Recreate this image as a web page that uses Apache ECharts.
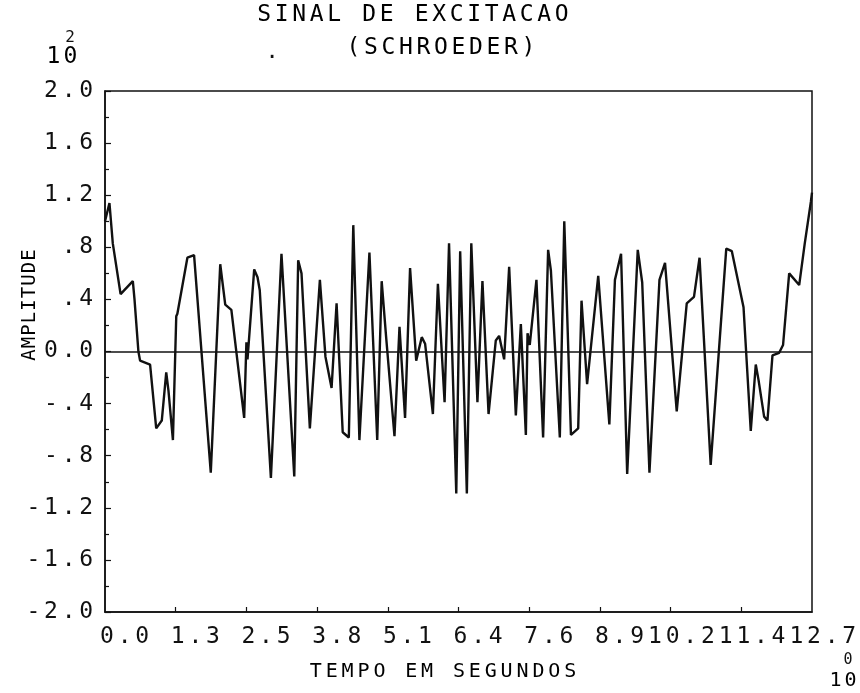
<!DOCTYPE html>
<html>
<head>
<meta charset="utf-8">
<script src="https://cdn.jsdelivr.net/npm/echarts@6/dist/echarts.min.js"></script>
<style>
html,body{margin:0;padding:0;background:#fff;}
#chart{width:860px;height:693px;}
</style>
</head>
<body>
<div id="chart"></div>
<script>
// time (s)
const times = [
  0, 0.08, 0.14, 0.28, 0.50, 0.53, 0.60, 0.63, 0.81, 0.92,
  1.02, 1.10, 1.14, 1.22, 1.28, 1.30, 1.48, 1.60, 1.90, 2.07,
  2.16, 2.27, 2.50, 2.54, 2.56, 2.68, 2.74, 2.78, 2.98, 3.17,
  3.40, 3.47, 3.53, 3.68, 3.86, 3.96, 4.07, 4.16, 4.27, 4.38,
  4.46, 4.57, 4.75, 4.89, 4.97, 5.05, 5.20, 5.29, 5.39, 5.48,
  5.59, 5.69, 5.75, 5.89, 5.98, 6.10, 6.18, 6.31, 6.38, 6.50,
  6.58, 6.69, 6.78, 6.89, 7.02, 7.08, 7.17, 7.26, 7.38, 7.47,
  7.56, 7.59, 7.63, 7.75, 7.87, 7.96, 8.01, 8.17, 8.25, 8.37,
  8.50, 8.56, 8.66, 8.86, 9.06, 9.16, 9.27, 9.38, 9.57, 9.65,
  9.78, 9.96, 10.06, 10.27, 10.45, 10.58, 10.68, 10.88, 11.16, 11.26,
  11.47, 11.60, 11.69, 11.74, 11.84, 11.90, 11.99, 12.11, 12.18, 12.29,
  12.47, 12.57, 12.68, 12.70
];
// amplitude (x10^2)
const amplitudes = [
  1.00, 1.14, 0.83, 0.44, 0.54, 0.40, 0.00, -0.07, -0.10, -0.59,
  -0.53, -0.16, -0.30, -0.68, 0.27, 0.29, 0.72, 0.74, -0.93, 0.67,
  0.36, 0.32, -0.51, 0.07, -0.06, 0.63, 0.57, 0.47, -0.97, 0.75,
  -0.96, 0.70, 0.60, -0.59, 0.55, -0.04, -0.28, 0.37, -0.62, -0.66,
  0.97, -0.68, 0.76, -0.68, 0.54, 0.11, -0.65, 0.19, -0.51, 0.64,
  -0.07, 0.11, 0.06, -0.48, 0.52, -0.39, 0.83, -1.09, 0.77, -1.09,
  0.83, -0.39, 0.54, -0.48, 0.085, 0.12, -0.06, 0.65, -0.49, 0.21,
  -0.64, 0.14, 0.05, 0.55, -0.66, 0.78, 0.62, -0.66, 1.00, -0.64,
  -0.59, 0.39, -0.25, 0.58, -0.56, 0.55, 0.75, -0.94, 0.78, 0.53,
  -0.93, 0.55, 0.68, -0.46, 0.37, 0.42, 0.72, -0.87, 0.79, 0.77,
  0.34, -0.61, -0.10, -0.22, -0.50, -0.53, -0.03, -0.01, 0.05, 0.60,
  0.51, 0.83, 1.15, 1.22
];
const xTickLabels = ['0.0','1.3','2.5','3.8','5.1','6.4','7.6','8.9','10.2','11.4','12.7'];
const yTickLabels = ['-2.0','-1.6','-1.2','-.8','-.4','0.0','.4','.8','1.2','1.6','2.0'];
const titleText = 'SINAL DE EXCITACAO';
const subtitleText = '(SCHROEDER)';
const xName = 'TEMPO EM SEGUNDOS';
const yName = 'AMPLITUDE';

const FONT = '"DejaVu Sans Mono", "Liberation Mono", monospace';
const INK = '#111';
const PITCH = 17.6;
function spaced(s, key) {
  return s.split('').map(ch => '{' + key + '|' + ch + '}').join('');
}
function cell(size, pitch) {
  return {width: pitch, align: 'center', fontFamily: FONT, fontSize: size, color: INK};
}
const xRich = {c: cell(23, PITCH), a3: {width: 100 - 3 * PITCH}, a4: {width: 100 - 4 * PITCH}, b: {width: 8}};
function xLabel(v, wantEnds) {
  const i = Math.round(v / 1.27);
  const isEnd = (i === 0 || i === xTickLabels.length - 1);
  if (isEnd !== wantEnds) return '';
  const s = xTickLabels[i];
  return '{a' + s.length + '| }' + spaced(s, 'c') + '{b| }';
}

const chart = echarts.init(document.getElementById('chart'), null, {renderer: 'canvas'});
const seriesData = times.map((t, i) => [t, amplitudes[i]]);

chart.setOption({
  animation: false,
  backgroundColor: '#fff',
  grid: {left: 105, right: 48, top: 91, bottom: 81, outerBoundsMode: 'none', containLabel: false,
         show: true, borderColor: INK, borderWidth: 1.5, backgroundColor: 'transparent'},
  xAxis: [{
    type: 'value', min: 0, max: 12.7, interval: 1.27,
    axisLine: {show: true, onZero: false, lineStyle: {color: INK, width: 1.5}},
    axisTick: {show: true, inside: true, length: 5, lineStyle: {color: INK, width: 1.2}},
    splitLine: {show: false},
    axisLabel: {
      margin: 14, align: 'center', showMinLabel: false, showMaxLabel: false,
      formatter: v => xLabel(v, false), rich: xRich
    }
  }, {
    type: 'value', min: 0, max: 12.7, interval: 1.27, position: 'bottom', offset: 0,
    axisLine: {show: false}, axisTick: {show: false}, splitLine: {show: false},
    axisLabel: {
      margin: 14, align: 'center', showMinLabel: true, showMaxLabel: true,
      formatter: v => xLabel(v, true), rich: xRich
    }
  }],
  yAxis: {
    type: 'value', min: -2, max: 2, interval: 0.4,
    axisLine: {show: true, onZero: false, lineStyle: {color: INK, width: 1.5}},
    axisTick: {show: true, inside: true, length: 6, lineStyle: {color: INK, width: 1.2}},
    minorTick: {show: true, splitNumber: 2, length: 4, lineStyle: {color: INK, width: 1.2}},
    splitLine: {show: false},
    axisLabel: {
      margin: 10, showMinLabel: true, showMaxLabel: true,
      formatter: v => spaced(yTickLabels[Math.round((v + 2) / 0.4)], 'c'),
      rich: {c: cell(23, PITCH)}
    }
  },
  series: [{
    type: 'line',
    xAxisIndex: 0,
    data: seriesData,
    showSymbol: false,
    symbol: 'none',
    lineStyle: {color: INK, width: 2.4},
    markLine: {
      silent: true, symbol: 'none', label: {show: false},
      lineStyle: {color: INK, width: 1.5, type: 'solid'},
      data: [{yAxis: 0}]
    }
  }],
  graphic: [
    {type: 'text', x: 413, y: 15, style: {text: spaced(titleText, 't'), rich: {t: cell(23, 17.5)}, align: 'center', verticalAlign: 'middle'}},
    {type: 'text', x: 441, y: 48, style: {text: spaced(subtitleText, 't'), rich: {t: cell(23, 17.5)}, align: 'center', verticalAlign: 'middle'}},
    {type: 'text', x: 272, y: 52, style: {text: '.', font: '22px ' + FONT, fill: INK, align: 'center', verticalAlign: 'middle'}},
    {type: 'text', x: 62, y: 57, style: {text: spaced('10', 't'), rich: {t: cell(23, 17)}, align: 'center', verticalAlign: 'middle'}},
    {type: 'text', x: 70, y: 38, style: {text: '2', font: '16px ' + FONT, fill: INK, align: 'center', verticalAlign: 'middle'}},
    {type: 'text', x: 443, y: 672, style: {text: spaced(xName, 't'), rich: {t: cell(20, 15.9)}, align: 'center', verticalAlign: 'middle'}},
    {type: 'text', x: 843, y: 681, style: {text: spaced('10', 't'), rich: {t: cell(20, 15)}, align: 'center', verticalAlign: 'middle'}},
    {type: 'text', x: 848, y: 660, style: {text: '0', font: '15px ' + FONT, fill: INK, align: 'center', verticalAlign: 'middle'}},
    {type: 'text', x: 30, y: 305, rotation: Math.PI / 2, style: {text: spaced(yName, 't'), rich: {t: cell(19, 12.5)}, align: 'center', verticalAlign: 'middle'}}
  ]
});
</script>
</body>
</html>
